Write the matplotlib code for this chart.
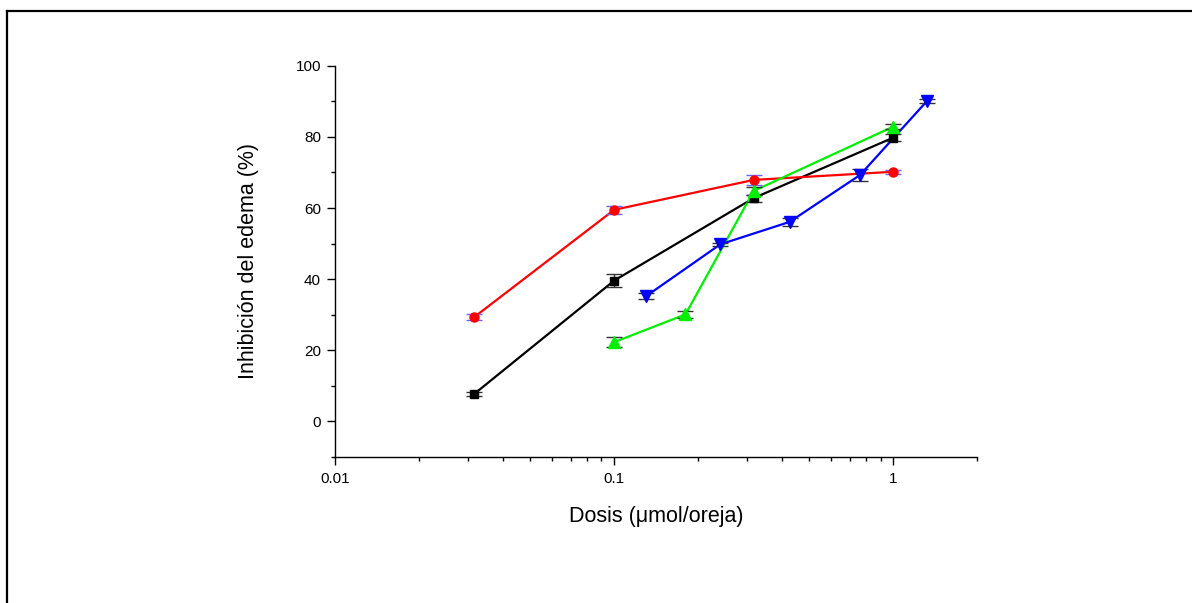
import matplotlib
matplotlib.use("Agg")
import matplotlib.pyplot as plt
from matplotlib.lines import Line2D

plt.rcParams['font.family'] = ['Liberation Sans', 'DejaVu Sans']

# Data
x_black = [0.0316, 0.1, 0.316, 1.0]
y_black = [7.8, 39.6, 62.8, 79.8]
e_black = [0.5, 1.9, 1.0, 1.0]

x_red = [0.0316, 0.1, 0.316, 1.0]
y_red = [29.4, 59.5, 67.9, 70.2]
e_red = [0.85, 1.2, 1.5, 0.5]

x_green = [0.1, 0.18, 0.316, 1.0]
y_green = [22.3, 30.1, 64.8, 82.9]
e_green = [1.4, 1.0, 1.2, 0.7]

x_blue = [0.13, 0.24, 0.425, 0.76, 1.32]
y_blue = [35.2, 49.8, 56.1, 69.3, 90.1]
e_blue = [0.9, 0.5, 1.2, 1.6, 0.5]

x_ticks = [0.01, 0.1, 1]
x_ticklabels = ['0.01', '0.1', '1']
y_ticks = [0, 20, 40, 60, 80, 100]

fig = plt.figure(figsize=(11.92, 6.03), dpi=100)
ax = fig.add_axes([0.281, 0.242, 0.539, 0.649])

series = [
    (x_black, y_black, e_black, 'black', 's', 6, '#333333'),
    (x_red, y_red, e_red, 'red', 'o', 6.5, '#6666ff'),
    (x_green, y_green, e_green, '#00ee00', '^', 8.5, '#333333'),
    (x_blue, y_blue, e_blue, 'blue', 'v', 8.5, '#333333'),
]
for xs, ys, es, c, m, ms, ec in series:
    ax.plot(xs, ys, color=c, lw=1.6, zorder=2)
    ax.errorbar(xs, ys, yerr=es, fmt='none', ecolor=ec, elinewidth=1.0,
                capsize=6, capthick=1.0, zorder=3)
    ax.plot(xs, ys, ls='none', marker=m, ms=ms, color=c, mec=c, zorder=4)

ax.set_xscale('log')
ax.set_xlim(0.01, 2)
ax.set_ylim(-10, 100)
ax.set_xticks(x_ticks)
ax.set_xticklabels(x_ticklabels)
ax.set_yticks(y_ticks)
ax.set_yticks([-10, 10, 30, 50, 70, 90], minor=True)

for s in ['top', 'right']:
    ax.spines[s].set_visible(False)
for s in ['left', 'bottom']:
    ax.spines[s].set_linewidth(1.0)

ax.tick_params(axis='both', which='major', direction='out', length=6, width=1.0,
               labelsize=11, pad=4)
ax.tick_params(axis='x', which='major', pad=5)
ax.tick_params(axis='both', which='minor', direction='out', length=3, width=1.0)
ax.xaxis.set_minor_formatter(matplotlib.ticker.NullFormatter())

ax.set_xlabel('Dosis (\u03bcmol/oreja)', fontsize=15.5)
ax.set_ylabel('Inhibición del edema (%)', fontsize=15.5)
ax.xaxis.set_label_coords(0.5, -0.125)
ax.yaxis.set_label_coords(-0.118, 0.5)

# Figure frame (top and left lines)
fig.add_artist(Line2D([0.006, 1.0], [1 - 11/603, 1 - 11/603], transform=fig.transFigure,
                      color='black', lw=1.6))
fig.add_artist(Line2D([0.006, 0.006], [0, 1 - 11/603], transform=fig.transFigure,
                      color='black', lw=1.6))

fig.savefig('out.png', dpi=100)
